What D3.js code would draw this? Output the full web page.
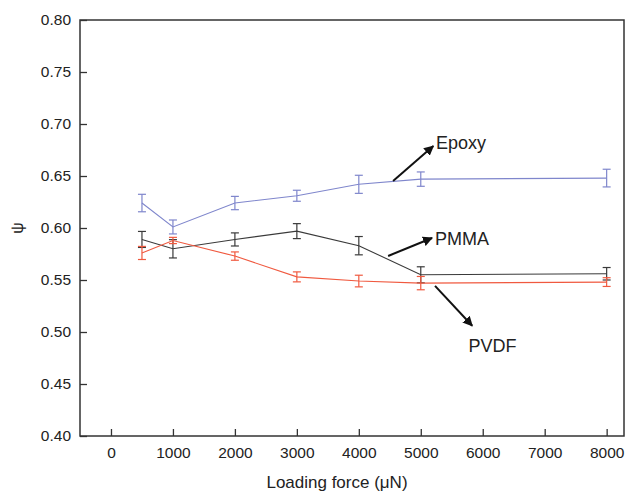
<!DOCTYPE html>
<html>
<head>
<meta charset="utf-8">
<script src="https://cdn.jsdelivr.net/npm/d3@7"></script>
<style>
  body { margin: 0; background: #fff; }
  text { font-family: "Liberation Sans", Arial, sans-serif; fill: #222; }
</style>
</head>
<body>
<div class="chart"></div>
<script>
// data
const loads = [500, 1000, 2000, 3000, 4000, 5000, 8000];
const epoxy = [0.624, 0.601, 0.624, 0.631, 0.642, 0.647, 0.648];
const epoxyErr = [0.0084, 0.0067, 0.0064, 0.0053, 0.0087, 0.0069, 0.0085];
const pmma = [0.589, 0.580, 0.589, 0.597, 0.583, 0.555, 0.556];
const pmmaErr = [0.0077, 0.0088, 0.0063, 0.0072, 0.0088, 0.0077, 0.006];
const pvdf = [0.576, 0.588, 0.573, 0.553, 0.549, 0.547, 0.548];
const pvdfErr = [0.0063, 0.003, 0.004, 0.0048, 0.0056, 0.0064, 0.0042];
const xTicks = [0, 1000, 2000, 3000, 4000, 5000, 6000, 7000, 8000];
const yTicks = [0.40, 0.45, 0.50, 0.55, 0.60, 0.65, 0.70, 0.75, 0.80];

const series = [
  { name: "Epoxy", values: epoxy, err: epoxyErr, color: "#7f86cc" },
  { name: "PMMA", values: pmma, err: pmmaErr, color: "#3a3a3a" },
  { name: "PVDF", values: pvdf, err: pvdfErr, color: "#f0593f" }
];

const width = 626, height = 494;
const margin = { top: 20, right: 2, bottom: 58, left: 80 };

var svg = d3.select(".chart").append("svg")
    .attr("width", width)
    .attr("height", height);

var x = d3.scaleLinear().domain([-500, 8280]).range([margin.left, width - margin.right]);
var y = d3.scaleLinear().domain([0.40, 0.80]).range([height - margin.bottom, margin.top]);

var defs = svg.append("defs");
defs.append("marker")
    .attr("id", "arrow")
    .attr("viewBox", "0 0 10 10")
    .attr("refX", 9).attr("refY", 5)
    .attr("markerWidth", 5).attr("markerHeight", 5)
    .attr("orient", "auto")
    .append("path")
    .attr("d", "M0,0 L10,5 L0,10 z")
    .attr("fill", "#111");

// frame
svg.append("rect")
    .attr("x", x.range()[0]).attr("y", y.range()[1])
    .attr("width", x.range()[1] - x.range()[0])
    .attr("height", y.range()[0] - y.range()[1])
    .attr("fill", "none")
    .attr("stroke", "#333")
    .attr("stroke-width", 1.5);

// x axis, ticks inward
var gx = svg.append("g").attr("transform", `translate(0,${y.range()[0]})`);
gx.call(d3.axisBottom(x).tickValues(d3.range(0, 8001, 500)).tickSize(-4).tickFormat(""))
  .call(g => g.select(".domain").remove());
gx.call(d3.axisBottom(x).tickValues(xTicks).tickSize(-7).tickPadding(11).tickFormat(d3.format("d")))
  .call(g => g.select(".domain").remove())
  .call(g => g.selectAll("text").attr("font-size", 15.5).attr("fill", "#222"));
gx.selectAll("line").attr("stroke", "#333").attr("stroke-width", 1.3);

// y axis
var gy = svg.append("g").attr("transform", `translate(${x.range()[0]},0)`);
gy.call(d3.axisLeft(y).tickValues(d3.range(0.425, 0.8, 0.05)).tickSize(-4).tickFormat(""))
  .call(g => g.select(".domain").remove());
gy.call(d3.axisLeft(y).tickValues(yTicks).tickSize(-7).tickPadding(9).tickFormat(d3.format(".2f")))
  .call(g => g.select(".domain").remove())
  .call(g => g.selectAll("text").attr("font-size", 15.5).attr("fill", "#222"));
gy.selectAll("line").attr("stroke", "#333").attr("stroke-width", 1.3);

// axis titles
svg.append("text")
    .attr("x", 337)
    .attr("y", height - 6)
    .attr("text-anchor", "middle")
    .attr("font-size", 17)
    .text("Loading force (\u03bcN)");

svg.append("text")
    .attr("transform", `translate(23,${y(0.6)}) rotate(-90)`)
    .attr("text-anchor", "middle")
    .attr("font-size", 16)
    .text("\u03c8");

// lines and error bars
var line = d3.line().x((d, i) => x(loads[i])).y(d => y(d));

series.forEach(s => {
    var g = svg.append("g");
    g.append("path")
        .attr("d", line(s.values))
        .attr("fill", "none")
        .attr("stroke", s.color)
        .attr("stroke-width", 1.1);

    var bars = g.selectAll(".err")
        .data(s.values)
        .join("g")
        .attr("class", "err");
    bars.append("line")
        .attr("x1", (d, i) => x(loads[i])).attr("x2", (d, i) => x(loads[i]))
        .attr("y1", (d, i) => y(d - s.err[i])).attr("y2", (d, i) => y(d + s.err[i]));
    bars.append("line")
        .attr("x1", (d, i) => x(loads[i]) - 4).attr("x2", (d, i) => x(loads[i]) + 4)
        .attr("y1", (d, i) => y(d + s.err[i])).attr("y2", (d, i) => y(d + s.err[i]));
    bars.append("line")
        .attr("x1", (d, i) => x(loads[i]) - 4).attr("x2", (d, i) => x(loads[i]) + 4)
        .attr("y1", (d, i) => y(d - s.err[i])).attr("y2", (d, i) => y(d - s.err[i]));
    bars.selectAll("line").attr("stroke", s.color).attr("stroke-width", 1.2);
});

// annotations: arrow from curve to label
const notes = [
    { name: "Epoxy", from: [4553, 0.6452], to: [5202, 0.6788], tx: 5247, ty: 0.6817 },
    { name: "PMMA", from: [4473, 0.5731], to: [5182, 0.5904], tx: 5231, ty: 0.5894 },
    { name: "PVDF", from: [5230, 0.5443], to: [5830, 0.5060], tx: 5770, ty: 0.4870 }
];

notes.forEach(n => {
    svg.append("line")
        .attr("x1", x(n.from[0])).attr("y1", y(n.from[1]))
        .attr("x2", x(n.to[0])).attr("y2", y(n.to[1]))
        .attr("stroke", "#111")
        .attr("stroke-width", 2)
        .attr("marker-end", "url(#arrow)");
    svg.append("text")
        .attr("x", x(n.tx)).attr("y", y(n.ty))
        .attr("dy", "0.35em")
        .attr("font-size", 18)
        .text(n.name);
});
</script>
</body>
</html>
